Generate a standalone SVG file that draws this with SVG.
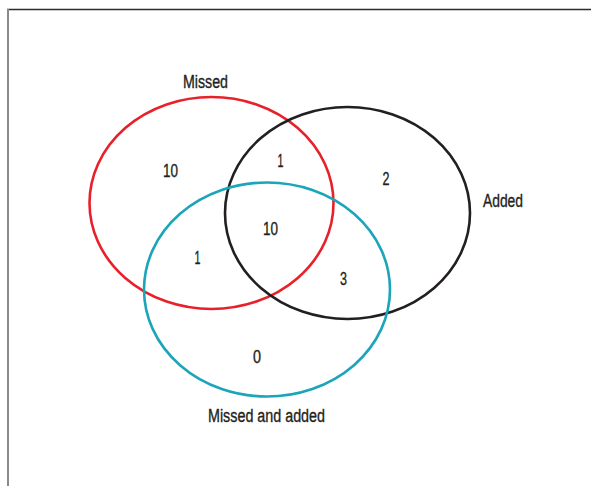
<svg xmlns="http://www.w3.org/2000/svg" width="591" height="486" viewBox="0 0 591 486">
<style>
.t{font-family:"Liberation Sans",Arial,sans-serif;font-size:18px;fill:#231f20;stroke:#231f20;stroke-width:0.35;text-anchor:middle}
.c{fill:none;stroke-width:2.6}
</style>
<rect width="591" height="486" fill="#fff"/>
<g id="frame">
<line x1="7" y1="9.5" x2="591" y2="9.5" stroke="#2b2b2b" stroke-width="1.6"/>
<line x1="8" y1="9" x2="8" y2="486" stroke="#8a8a8a" stroke-width="2"/>
</g>
<g id="missed">
<ellipse class="c" cx="211.5" cy="203" rx="122" ry="106" stroke="#e8202a"/>
<text class="t" x="205.5" y="88" textLength="45" lengthAdjust="spacingAndGlyphs">Missed</text>
</g>
<g id="added">
<ellipse class="c" cx="347.5" cy="213" rx="122.5" ry="106" stroke="#231f20"/>
<text class="t" x="503" y="207" textLength="40" lengthAdjust="spacingAndGlyphs">Added</text>
</g>
<g id="missed-and-added">
<ellipse class="c" cx="267" cy="289.5" rx="123" ry="107" stroke="#1aa5b8"/>
<text class="t" x="266.5" y="422" textLength="117" lengthAdjust="spacingAndGlyphs">Missed and added</text>
</g>
<g id="counts">
<text class="t" x="170.5" y="177" textLength="15" lengthAdjust="spacingAndGlyphs">10</text>
<text class="t" x="280.5" y="167" textLength="6" lengthAdjust="spacingAndGlyphs">1</text>
<text class="t" x="386" y="185" textLength="7" lengthAdjust="spacingAndGlyphs">2</text>
<text class="t" x="270.5" y="235" textLength="15" lengthAdjust="spacingAndGlyphs">10</text>
<text class="t" x="197.5" y="264" textLength="6" lengthAdjust="spacingAndGlyphs">1</text>
<text class="t" x="343.5" y="285" textLength="7" lengthAdjust="spacingAndGlyphs">3</text>
<text class="t" x="257" y="363" textLength="8" lengthAdjust="spacingAndGlyphs">0</text>
</g>
</svg>
